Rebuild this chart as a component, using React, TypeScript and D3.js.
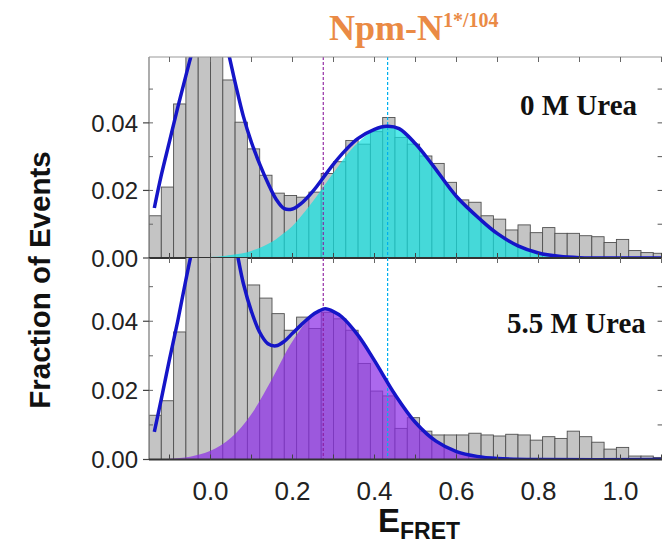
import React, { useEffect, useRef } from 'react';
import * as d3 from 'd3';

// histogram bins (left edges, width 0.03)
const binStarts = [
  -0.15, -0.12, -0.09, -0.06, -0.03, 0.0, 0.03, 0.06, 0.09, 0.12, 0.15, 0.18, 0.21, 0.24,
  0.27, 0.3, 0.33, 0.36, 0.39, 0.42, 0.45, 0.48, 0.51, 0.54, 0.57, 0.6, 0.63, 0.66,
  0.69, 0.72, 0.75, 0.78, 0.81, 0.84, 0.87, 0.9, 0.93, 0.96, 0.99, 1.02, 1.05, 1.08,
];
const binWidth = 0.03;

// 0 M Urea
const topFractions = [
  0.0125, 0.021, 0.0456, 0.068, 0.072, 0.066, 0.0527, 0.0402, 0.0323, 0.0245, 0.0192, 0.0185, 0.018, 0.0195,
  0.025, 0.0285, 0.0348, 0.0337, 0.0374, 0.0416, 0.0357, 0.0337, 0.0302, 0.028, 0.0224, 0.0172, 0.0165, 0.0125,
  0.0115, 0.0083, 0.0098, 0.0075, 0.009, 0.0073, 0.0073, 0.0066, 0.0063, 0.0046, 0.0055, 0.0022, 0.0016, 0.0014,
];

// 5.5 M Urea
const bottomFractions = [
  0.0128, 0.017, 0.0369, 0.066, 0.075, 0.08, 0.074, 0.062, 0.0505, 0.0467, 0.0422, 0.0374, 0.0412, 0.0379,
  0.0426, 0.0407, 0.0374, 0.0278, 0.0198, 0.0184, 0.009, 0.0121, 0.0082, 0.0071, 0.0071, 0.0071, 0.0076, 0.0071,
  0.0068, 0.0073, 0.0071, 0.0056, 0.0066, 0.0061, 0.0082, 0.0066, 0.005, 0.003, 0.0035, 0.001, 0.001, 0.0006,
];

// fitted curves
const topFit = [
  [-0.137, 0.0148], [-0.12, 0.0245], [-0.1, 0.0345], [-0.08, 0.0445], [-0.06, 0.054], [-0.04, 0.063],
  [-0.02, 0.07], [0.0, 0.073], [0.02, 0.0705], [0.04, 0.0625], [0.06, 0.052], [0.08, 0.042], [0.1, 0.0342],
  [0.12, 0.0278], [0.14, 0.0222], [0.16, 0.0174], [0.18, 0.0146], [0.2, 0.0145], [0.22, 0.016], [0.25, 0.0198],
  [0.28, 0.0246], [0.3, 0.0278], [0.33, 0.032], [0.36, 0.0354], [0.4, 0.0381], [0.43, 0.039], [0.46, 0.0383],
  [0.5, 0.0338], [0.54, 0.0278], [0.6, 0.0182], [0.66, 0.0112], [0.7, 0.0072], [0.75, 0.0036], [0.8, 0.0015],
  [0.85, 0.0005], [0.9, 0.0001], [1.0, 0], [1.11, 0],
];
const topFretFit = [
  [-0.15, 0], [0.0, 0.0003], [0.05, 0.0009], [0.1, 0.0021], [0.15, 0.0048], [0.18, 0.0075], [0.2, 0.0095],
  [0.25, 0.0168], [0.3, 0.0252], [0.35, 0.033], [0.4, 0.038], [0.43, 0.039], [0.46, 0.0382], [0.5, 0.0338],
  [0.54, 0.0278], [0.6, 0.0182], [0.66, 0.0112], [0.7, 0.0072], [0.75, 0.0036], [0.8, 0.0015], [0.85, 0.0005],
  [0.9, 0.0001], [1.0, 0], [1.11, 0],
];
const bottomFit = [
  [-0.137, 0.008], [-0.12, 0.0175], [-0.1, 0.029], [-0.08, 0.04], [-0.06, 0.052], [-0.04, 0.063],
  [-0.02, 0.071], [0.0, 0.076], [0.02, 0.077], [0.04, 0.0725], [0.06, 0.0625], [0.08, 0.051],
  [0.1, 0.0428], [0.12, 0.0368], [0.14, 0.0335], [0.16, 0.0329], [0.18, 0.0342], [0.2, 0.0365],
  [0.22, 0.0388], [0.245, 0.0415], [0.265, 0.043], [0.28, 0.0436], [0.3, 0.0428], [0.32, 0.0413],
  [0.36, 0.0359], [0.4, 0.0286], [0.45, 0.0188], [0.5, 0.0107], [0.55, 0.0053], [0.6, 0.0023], [0.65, 0.0009],
  [0.7, 0.0003], [0.8, 0], [1.11, 0],
];
const bottomFretFit = [
  [-0.15, 0], [-0.1, 0.0002], [-0.05, 0.0008], [0.0, 0.0025], [0.05, 0.0063], [0.1, 0.0132], [0.15, 0.0233],
  [0.2, 0.0342], [0.25, 0.0418], [0.28, 0.0432], [0.32, 0.0413], [0.36, 0.0359], [0.4, 0.0286], [0.45, 0.0188],
  [0.5, 0.0107], [0.55, 0.0053], [0.6, 0.0023], [0.65, 0.0009], [0.7, 0.0003], [0.75, 0.0001], [0.8, 0], [1.11, 0],
];

const xTickValues = [0, 0.2, 0.4, 0.6, 0.8, 1.0];
const xTickLabels = ['0.0', '0.2', '0.4', '0.6', '0.8', '1.0'];
const xMinorTicks = [-0.1, 0, 0.1, 0.2, 0.3, 0.4, 0.5, 0.6, 0.7, 0.8, 0.9, 1.0, 1.1];
const yTickValues = [0, 0.02, 0.04];
const yTickLabels = ['0.00', '0.02', '0.04'];
const yMinorTicks = [0.01, 0.02, 0.03, 0.04, 0.05];
const refLines = [0.275, 0.432];
const panelLabels = ['0 M Urea', '5.5 M Urea'];

const App = () => {
  const svgRef = useRef<SVGSVGElement>(null);

  useEffect(() => {
    const svg = d3.select(svgRef.current);
    svg.selectAll('*').remove();

    const x = d3.scaleLinear().domain([-0.15, 1.11]).range([149, 665.6]);
    const left = 149, right = 665.6;

    const panels = [
      { bars: topFractions, fit: topFit, fret: topFretFit, top: 57, bottom: 258, yMax: 0.0595,
        fill: '#14e0e0', fillOpacity: 0.72, label: panelLabels[0], lx: 520, ly: 115 },
      { bars: bottomFractions, fit: bottomFit, fret: bottomFretFit, top: 258, bottom: 459.5, yMax: 0.0583,
        fill: '#8c2ee6', fillOpacity: 0.72, label: panelLabels[1], lx: 507, ly: 333 },
    ];

    svg.append('rect').attr('width', 662).attr('height', 543).attr('fill', '#fff');
    const defs = svg.append('defs');

    panels.forEach((p, pi) => {
      const y = d3.scaleLinear().domain([0, p.yMax]).range([p.bottom, p.top]);
      const clipId = `clip${pi}`;
      defs.append('clipPath').attr('id', clipId)
        .append('rect').attr('x', left).attr('y', p.top).attr('width', right - left).attr('height', p.bottom - p.top);

      const g = svg.append('g').attr('clip-path', `url(#${clipId})`);

      g.selectAll('rect.bar')
        .data(p.bars)
        .join('rect')
        .attr('class', 'bar')
        .attr('x', (d, i) => x(binStarts[i]))
        .attr('width', x(binWidth) - x(0))
        .attr('y', d => y(d))
        .attr('height', d => p.bottom - y(d))
        .attr('fill', '#c4c4c4')
        .attr('stroke', '#505050')
        .attr('stroke-width', 0.9);

      const area = d3.area<number[]>()
        .x(d => x(d[0]))
        .y0(p.bottom)
        .y1(d => y(d[1]))
        .curve(d3.curveCatmullRom.alpha(0.5));
      g.append('path')
        .datum(p.fret)
        .attr('d', area)
        .attr('fill', p.fill)
        .attr('fill-opacity', p.fillOpacity);

      // reference lines
      g.append('line').attr('x1', x(refLines[0])).attr('x2', x(refLines[0]))
        .attr('y1', p.top).attr('y2', p.bottom)
        .attr('stroke', '#8a1a9e').attr('stroke-width', 1.1).attr('stroke-dasharray', '3,2');
      g.append('line').attr('x1', x(refLines[1])).attr('x2', x(refLines[1]))
        .attr('y1', p.top).attr('y2', p.bottom)
        .attr('stroke', '#00b0ee').attr('stroke-width', 1.2).attr('stroke-dasharray', '3,2');

      const line = d3.line<number[]>()
        .x(d => x(d[0]))
        .y(d => y(d[1]))
        .curve(d3.curveCatmullRom.alpha(0.5));
      g.append('path')
        .datum(p.fit)
        .attr('d', line)
        .attr('fill', 'none')
        .attr('stroke', '#1515c8')
        .attr('stroke-width', 3.5);

      // frame
      svg.append('line').attr('x1', left).attr('x2', left).attr('y1', p.top).attr('y2', p.bottom)
        .attr('stroke', '#808080').attr('stroke-width', 1.3);
      if (pi === 0) {
        svg.append('line').attr('x1', left).attr('x2', right).attr('y1', p.top).attr('y2', p.top)
          .attr('stroke', '#999').attr('stroke-width', 1.2);
      }
      svg.append('line').attr('x1', left).attr('x2', right).attr('y1', p.bottom).attr('y2', p.bottom)
        .attr('stroke', '#333').attr('stroke-width', 2);

      // x ticks (inward, top and bottom of each panel)
      xMinorTicks.forEach(t => {
        svg.append('line').attr('x1', x(t)).attr('x2', x(t)).attr('y1', p.bottom).attr('y2', p.bottom - 5)
          .attr('stroke', '#444').attr('stroke-width', 1);
        svg.append('line').attr('x1', x(t)).attr('x2', x(t)).attr('y1', p.top).attr('y2', p.top + 5)
          .attr('stroke', '#666').attr('stroke-width', 1);
      });

      // y ticks
      yMinorTicks.forEach(t => {
        svg.append('line').attr('x1', left).attr('x2', left + 4).attr('y1', y(t)).attr('y2', y(t))
          .attr('stroke', '#666').attr('stroke-width', 1);
        svg.append('line').attr('x1', right).attr('x2', right - 8).attr('y1', y(t)).attr('y2', y(t))
          .attr('stroke', '#555').attr('stroke-width', 1);
      });
      yTickValues.forEach((t, i) => {
        svg.append('line').attr('x1', left - 6).attr('x2', left).attr('y1', y(t)).attr('y2', y(t))
          .attr('stroke', '#444').attr('stroke-width', 1.2);
        svg.append('text').attr('x', 138).attr('y', y(t)).attr('dy', '0.36em')
          .attr('text-anchor', 'end')
          .attr('font-family', '"Liberation Sans", Arial, sans-serif')
          .attr('font-size', 24).attr('fill', '#222')
          .text(yTickLabels[i]);
      });

      svg.append('text').attr('x', p.lx).attr('y', p.ly)
        .attr('font-family', '"Liberation Serif", "Times New Roman", serif')
        .attr('font-weight', 'bold').attr('font-size', 29).attr('fill', '#111')
        .text(p.label);
    });

    // bottom x tick labels
    xTickValues.forEach((t, i) => {
      svg.append('text').attr('x', x(t)).attr('y', 500)
        .attr('text-anchor', 'middle')
        .attr('font-family', '"Liberation Sans", Arial, sans-serif')
        .attr('font-size', 26).attr('fill', '#222')
        .text(xTickLabels[i]);
    });

    // axis titles
    const xl = svg.append('text').attr('x', 378).attr('y', 532)
      .attr('font-family', '"Liberation Sans", Arial, sans-serif')
      .attr('font-weight', 'bold').attr('fill', '#111');
    xl.append('tspan').attr('font-size', 33).text('E');
    xl.append('tspan').attr('font-size', 23).attr('dy', 7).text('FRET');

    svg.append('text')
      .attr('transform', 'translate(50,280) rotate(-90)')
      .attr('text-anchor', 'middle')
      .attr('font-family', '"Liberation Sans", Arial, sans-serif')
      .attr('font-weight', 'bold').attr('font-size', 29.5).attr('fill', '#111')
      .text('Fraction of Events');

    const title = svg.append('text').attr('x', 329).attr('y', 40)
      .attr('font-family', '"Liberation Serif", "Times New Roman", serif')
      .attr('font-weight', 'bold').attr('fill', '#ea8a45');
    title.append('tspan').attr('font-size', 36).text('Npm-N');
    title.append('tspan').attr('font-size', 20).attr('dy', -13).text('1*/104');
  }, []);

  return (
    <svg ref={svgRef} width={662} height={543}
      style={{ position: 'absolute', left: 0, top: 0 }} />
  );
};

export default App;
